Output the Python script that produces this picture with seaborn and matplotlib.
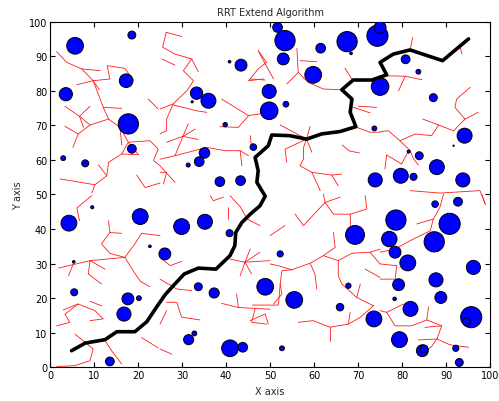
import matplotlib
matplotlib.use("Agg")
import matplotlib.pyplot as plt
import seaborn as sns
import pandas as pd

# ---- obstacles: centre (x, y) and radius in x-units ----
obs_x = [5.7, 18.6, 3.6, 17.3, 17.8, 18.6, 3.0, 8.0, 33.3, 36.0, 32.3, 39.8, 35.1, 33.9, 31.4,
         38.6, 43.3, 40.8, 43.4, 51.7, 53.4, 53.0, 61.5, 67.5, 68.4, 74.4, 75.0, 59.8, 80.8, 83.7,
         75.0, 49.8, 49.8, 53.6, 87.1, 73.7, 94.2, 46.2, 83.9, 81.5, 87.9, 79.7, 82.6, 73.9, 93.8,
         91.7, 4.3, 9.6, 20.5, 29.9, 35.2, 40.8, 26.1, 22.7, 5.4, 5.5, 17.7, 20.2, 16.8, 33.7,
         37.3, 31.5, 32.8, 40.9, 43.8, 13.6, 48.9, 52.3, 55.5, 69.3, 67.8, 65.9, 52.7, 73.6, 78.6,
         77.1, 78.4, 81.3, 79.2, 78.3, 81.9, 79.4, 87.5, 92.7, 90.8, 87.3, 96.2, 87.7, 88.8, 95.7,
         94.7, 84.6, 85.0, 92.2, 93.0]
obs_y = [93.0, 96.1, 79.0, 82.9, 70.4, 63.2, 60.5, 59.0, 79.3, 77.1, 76.8, 70.2, 62.0, 59.5, 58.5,
         53.7, 54.0, 88.4, 87.4, 98.3, 94.5, 89.2, 92.3, 94.2, 90.8, 95.9, 98.3, 84.6, 89.1, 85.5,
         81.2, 79.8, 74.2, 76.1, 78.0, 69.1, 67.0, 63.7, 61.2, 62.4, 57.9, 55.4, 55.1, 54.2, 54.2,
         64.1, 41.7, 46.3, 43.6, 40.7, 42.1, 38.8, 32.8, 35.0, 30.5, 21.7, 19.8, 20.0, 15.4, 23.3,
         21.5, 8.0, 9.8, 5.5, 5.8, 1.7, 23.3, 32.8, 19.5, 38.3, 23.6, 17.4, 5.5, 14.0, 42.6,
         37.1, 33.3, 30.2, 23.9, 19.8, 16.9, 8.0, 47.2, 47.9, 41.5, 36.3, 28.9, 25.3, 20.2, 14.5,
         13.2, 4.8, 5.3, 5.5, 1.4]
obs_r = [1.9, 0.9, 1.5, 1.55, 2.3, 1.0, 0.55, 0.8, 1.4, 1.7, 0.25, 0.5, 1.2, 1.1, 0.45,
         1.1, 1.1, 0.3, 1.35, 1.1, 2.3, 1.35, 1.1, 2.3, 0.3, 2.4, 1.35, 1.9, 1.0, 0.55,
         2.0, 1.6, 2.0, 0.65, 0.9, 0.55, 1.7, 0.75, 0.9, 0.35, 1.7, 1.7, 0.8, 1.6, 1.6,
         0.15, 1.8, 0.35, 1.8, 1.8, 1.7, 0.8, 1.35, 0.3, 0.3, 0.8, 1.35, 0.55, 1.6, 0.9,
         1.15, 1.15, 0.55, 1.9, 1.1, 1.0, 1.9, 0.7, 1.9, 2.15, 0.6, 0.85, 0.55, 1.8, 2.3,
         1.75, 1.35, 1.8, 1.35, 0.4, 1.7, 1.8, 0.75, 1.0, 2.4, 2.3, 1.6, 1.6, 1.35, 2.4,
         0.9, 1.35, 0.9, 0.7, 0.9]

# ---- final path from start to goal ----
path_x = [4.9, 8.0, 9.8, 12.5, 15.2, 19.3, 22.0, 24.2, 26.1, 28.0, 30.5, 33.7, 37.7, 40.9,
          42.0, 42.2, 43.6, 45.5, 47.7, 48.9, 47.0, 47.3, 46.6, 49.6, 50.4, 54.5, 58.3, 61.7,
          65.9, 69.5, 68.2, 68.6, 66.3, 68.9, 73.1, 76.5, 75.0, 78.0, 81.8, 89.2, 95.1]
path_y = [4.8, 7.0, 7.4, 8.0, 10.3, 10.3, 13.2, 17.4, 20.9, 23.6, 27.0, 28.7, 28.4, 32.3,
          35.2, 39.0, 41.9, 44.3, 46.7, 49.5, 53.5, 56.9, 60.7, 64.1, 67.2, 67.0, 66.0, 67.5,
          68.2, 69.6, 73.8, 77.6, 80.3, 83.1, 83.1, 84.6, 88.2, 90.6, 91.8, 88.7, 95.0]

# ---- explored tree, one polyline per branch ----
tree_nw = [
    [(1.5, 91.3), (3.8, 88.2), (7.2, 86.3), (11.4, 85.8)],
    [(7.2, 86.3), (9.8, 82.9), (13.6, 83.4), (13.0, 87.25), (17.0, 86.5), (18.9, 83.1)],
    [(9.8, 82.9), (6.1, 81.75)],
    [(9.8, 82.9), (11.2, 80.3)],
    [(9.8, 82.9), (11.4, 77.6), (12.1, 75.2), (13.3, 71.8), (15.9, 69.4), (17.8, 65.1), (20.1, 61.5)],
    [(12.1, 75.2), (16.3, 74.9)],
    [(13.3, 71.8), (9.1, 70.1), (6.4, 67.5), (5.2, 63.6)],
    [(6.4, 67.5), (3.4, 69.7)],
    [(9.1, 70.1), (6.7, 72.6), (3.4, 75.5)],
    [(6.7, 72.6), (9.1, 75.5)],
    [(6.7, 72.6), (7.6, 69.4)],
    [(15.9, 69.4), (16.3, 64.3)],
    [(17.8, 65.1), (16.3, 61.7), (20.1, 61.5)],
    [(17.8, 65.1), (22.7, 65.55), (24.6, 63.1), (23.5, 59.8), (25.0, 58.3), (28.4, 53.5)],
    [(11.0, 58.6), (12.9, 55.4), (10.2, 52.8), (2.3, 54.5)],
    [(12.9, 55.4), (13.3, 59.3), (16.3, 61.7)],
    [(10.2, 52.8), (9.5, 50.4)],
    [(19.7, 55.6), (21.6, 52.0), (25.0, 53.3)],
    [(22.3, 77.6), (24.6, 74.7)],
    [(26.4, 96.9), (29.9, 95.7)],
    [(26.4, 96.9), (25.6, 92.6), (28.4, 90.6), (32.2, 89.2), (33.7, 85.5)],
    [(25.4, 89.2), (28.4, 87.4)],
    [(32.2, 89.2), (30.3, 85.8), (32.6, 82.9), (31.1, 80.0), (28.0, 76.2), (25.0, 74.7)],
    [(28.0, 76.2), (26.5, 71.8), (26.5, 68.5), (25.0, 67.5)],
    [(28.0, 75.9), (33.3, 74.2), (35.6, 73.75)],
    [(30.2, 66.8), (26.5, 65.1)],
    [(30.2, 66.8), (31.4, 70.4)],
    [(30.2, 66.8), (33.7, 65.9)],
    [(30.2, 66.8), (33.0, 68.9)],
    [(30.2, 66.8), (28.4, 61.2), (25.0, 60.2)],
    [(28.4, 61.2), (35.6, 63.6), (39.8, 62.65), (43.2, 62.65), (45.1, 61.2)],
    [(43.2, 62.65), (43.6, 58.3)],
    [(39.0, 77.6), (45.1, 72.8), (42.8, 69.4), (38.6, 69.6)],
    [(45.1, 72.8), (50.0, 73.75)],
    [(45.5, 67.0), (45.8, 63.6)],
    [(47.3, 91.6), (49.2, 88.2), (47.3, 86.3), (45.1, 82.9), (48.5, 83.4)],
    [(25.0, 56.4), (26.5, 56.4), (25.8, 53.0)],
]

tree_ne = [
    [(56.1, 92.3), (56.4, 85.3), (53.8, 81.95)],
    [(56.8, 88.7), (60.6, 88.4)],
    [(56.4, 85.3), (58.7, 82.4), (62.1, 80.5), (65.9, 80.3)],
    [(47.3, 91.6), (48.5, 88.7), (50.8, 83.4)],
    [(45.45, 83.4), (48.9, 83.1)],
    [(67.0, 86.5), (68.6, 83.4)],
    [(82.4, 95.4), (81.8, 91.6)],
    [(75.0, 84.35), (80.7, 84.2), (84.5, 83.2)],
    [(80.7, 84.2), (79.2, 80.0)],
    [(95.5, 81.0), (92.4, 77.6), (92.0, 75.2), (94.3, 71.8), (97.3, 73.75)],
    [(94.3, 71.8), (91.7, 68.4), (88.3, 70.1), (84.7, 71.8)],
    [(88.3, 70.1), (86.7, 67.0), (83.0, 67.5), (79.5, 65.55), (76.9, 68.4), (75.0, 68.2)],
    [(79.5, 65.55), (81.8, 62.7), (82.6, 60.3), (83.7, 58.5)],
    [(76.5, 61.4), (76.1, 57.4)],
    [(76.5, 61.4), (79.9, 58.8), (81.4, 62.5)],
    [(81.8, 51.1), (88.6, 50.4), (97.7, 51.1), (98.9, 47.2)],
    [(89.0, 88.7), (93.2, 92.55), (93.6, 90.6)],
    [(58.3, 66.0), (52.3, 70.1)],
    [(58.3, 66.0), (59.1, 69.7)],
    [(58.3, 66.0), (57.6, 63.6), (57.6, 60.3), (56.8, 58.3), (59.5, 56.4), (64.0, 55.6), (66.3, 55.9)],
    [(64.0, 55.6), (65.5, 52.5)],
    [(58.3, 66.0), (53.4, 63.1), (53.8, 59.3)],
    [(58.3, 66.0), (59.5, 62.2)],
    [(59.5, 56.4), (61.4, 51.1)],
    [(66.4, 64.3), (68.0, 62.6), (70.3, 62.0)],
    [(68.9, 75.2), (72.7, 73.6)],
    [(70.1, 75.5), (74.2, 75.2)],
    [(69.7, 69.4), (72.7, 68.0), (75.0, 68.0)],
]

tree_sw = [
    [(9.5, 49.65), (6.1, 46.1), (6.7, 42.4)],
    [(13.3, 42.4), (13.6, 39.0), (11.7, 35.7), (13.6, 32.95), (17.0, 31.8), (18.9, 27.95),
     (20.5, 24.9), (22.7, 23.3)],
    [(13.6, 39.0), (16.3, 38.75)],
    [(17.0, 31.8), (19.3, 35.7), (20.8, 38.75), (25.0, 38.1)],
    [(17.0, 31.8), (9.1, 30.85), (1.9, 28.7)],
    [(9.1, 30.85), (8.7, 27.0), (11.7, 24.1)],
    [(9.1, 30.85), (12.5, 28.4)],
    [(5.3, 29.9), (4.2, 26.5)],
    [(3.0, 16.6), (6.4, 18.3), (10.2, 16.4), (12.1, 14.0), (9.1, 13.5)],
    [(6.4, 18.3), (3.4, 15.4), (4.5, 13.0), (1.5, 12.0)],
    [(9.1, 19.1), (11.7, 17.8)],
    [(5.7, 9.6), (9.8, 5.3), (9.1, 1.9), (5.7, 0.5), (1.5, 0.2)],
    [(12.5, 7.7), (14.0, 4.8), (16.3, 0.95)],
    [(20.8, 8.6), (24.6, 5.6)],
    [(36.4, 49.65), (37.1, 48.2), (39.4, 49.2)],
    [(40.9, 49.65), (43.2, 46.5), (44.8, 42.9), (47.7, 41.0)],
    [(40.5, 46.3), (40.5, 42.9)],
    [(25.0, 31.8), (27.3, 29.4), (29.9, 30.65)],
    [(44.3, 30.4), (45.5, 34.2)],
    [(44.3, 30.4), (47.7, 33.3)],
    [(44.3, 30.4), (43.2, 26.5)],
    [(44.3, 30.4), (45.8, 27.0)],
    [(44.3, 30.4), (50.0, 30.85)],
    [(44.3, 30.4), (40.9, 31.3)],
    [(25.0, 25.5), (28.8, 22.65), (32.2, 22.2)],
    [(26.5, 18.8), (28.8, 18.8), (29.9, 14.5), (34.1, 13.7)],
    [(26.5, 16.4), (25.0, 12.5)],
    [(39.0, 18.5), (42.8, 17.3), (50.0, 16.8)],
    [(42.8, 17.3), (42.4, 21.2)],
    [(46.6, 16.9), (45.8, 13.0), (49.2, 12.5)],
    [(25.0, 5.3), (27.7, 3.8)],
    [(45.45, 13.5), (48.9, 15.4), (49.6, 12.5)],
]

tree_se = [
    [(62.1, 50.1), (62.5, 47.7), (65.9, 49.2)],
    [(62.5, 47.7), (64.4, 44.3), (68.2, 44.3), (72.0, 45.8), (71.6, 49.65)],
    [(68.2, 44.3), (68.3, 41.0)],
    [(62.5, 47.7), (57.6, 41.0), (55.7, 44.3)],
    [(50.0, 38.1), (53.4, 41.0)],
    [(64.4, 39.0), (64.8, 34.7), (62.1, 32.3), (59.1, 30.1), (54.9, 28.2), (51.9, 29.4), (50.0, 29.9)],
    [(62.1, 32.3), (65.5, 30.85), (68.6, 33.0), (72.7, 33.3), (75.0, 34.2)],
    [(65.5, 30.85), (65.5, 26.5), (66.3, 24.1), (69.7, 20.2), (73.5, 17.8)],
    [(69.7, 20.2), (70.5, 24.1)],
    [(72.7, 33.3), (75.0, 29.9)],
    [(71.6, 28.4), (75.0, 26.0)],
    [(59.1, 30.1), (60.2, 27.0), (60.6, 22.65)],
    [(54.9, 28.2), (52.7, 27.95), (52.3, 24.1), (52.7, 21.2), (50.8, 18.3)],
    [(52.3, 24.1), (51.9, 18.0), (46.0, 18.0)],
    [(56.4, 13.0), (59.8, 13.5), (63.6, 11.6), (67.8, 12.5), (70.5, 14.45), (73.5, 17.8)],
    [(67.8, 12.5), (68.2, 15.9)],
    [(63.6, 11.6), (63.6, 7.7)],
    [(89.4, 50.1), (88.6, 46.3), (87.1, 42.9), (86.4, 39.5), (81.8, 36.6), (78.4, 34.2), (75.0, 33.3)],
    [(87.1, 42.9), (83.3, 41.45)],
    [(98.1, 50.1), (98.9, 47.2)],
    [(75.0, 29.9), (78.8, 29.4), (78.4, 25.5), (75.0, 25.5)],
    [(75.0, 16.4), (76.5, 15.9), (78.4, 12.0), (82.2, 12.0), (85.6, 13.7), (86.0, 17.5)],
    [(76.5, 15.9), (80.3, 18.3)],
    [(85.6, 13.7), (89.0, 12.0), (87.9, 8.2), (86.7, 6.0), (85.6, 4.8)],
    [(89.0, 12.0), (85.2, 11.55)],
    [(87.9, 8.2), (83.7, 7.9)],
    [(87.9, 8.2), (90.9, 6.5), (95.1, 5.8)],
]

sns.set_theme(style="white")
plt.rcParams["font.family"] = ["DejaVu Sans"]

fig = plt.figure(figsize=(4.99, 4.02), dpi=100)
ax = fig.add_axes([0.1002, 0.0838, 0.882, 0.86])
ax.set_xlim(0, 100)
ax.set_ylim(0, 100)

# tree edges
branches = tree_nw + tree_ne + tree_sw + tree_se
for branch in branches:
    bx = [p[0] for p in branch]
    by = [p[1] for p in branch]
    ax.plot(bx, by, color="#ff1a1a", linestyle="-", linewidth=0.6, zorder=2)

# obstacles, biggest first so overlapping outlines stay visible
obs = pd.DataFrame({"x": obs_x, "y": obs_y, "r": obs_r}).sort_values("r", ascending=False)
px_per_unit = ax.get_window_extent().width / 100.0
obs["s"] = (2 * obs["r"] * px_per_unit * 72.0 / fig.dpi) ** 2
sns.scatterplot(data=obs, x="x", y="y", s=obs["s"].to_numpy(), color="#0000ff",
                edgecolor="black", linewidth=0.7, ax=ax, zorder=4, legend=False)

# final path
path = pd.DataFrame({"x": path_x, "y": path_y})
sns.lineplot(data=path, x="x", y="y", sort=False, estimator=None, color="black",
             lw=2.6, ax=ax, zorder=5, solid_joinstyle="round")

ax.set_xticks(range(0, 101, 10))
ax.set_yticks(range(0, 101, 10))
ax.tick_params(direction="in", length=3.5, width=0.8, labelsize=7, colors="black",
               top=True, right=True, bottom=True, left=True, pad=2)
for sp in ax.spines.values():
    sp.set_color("black")
    sp.set_linewidth(0.8)

ax.set_title("RRT Extend Algorithm", fontsize=7, pad=5)
ax.set_xlabel("X axis", fontsize=7, labelpad=4)
ax.set_ylabel("Y axis", fontsize=7, labelpad=4)

fig.savefig("out.png", dpi=100)
